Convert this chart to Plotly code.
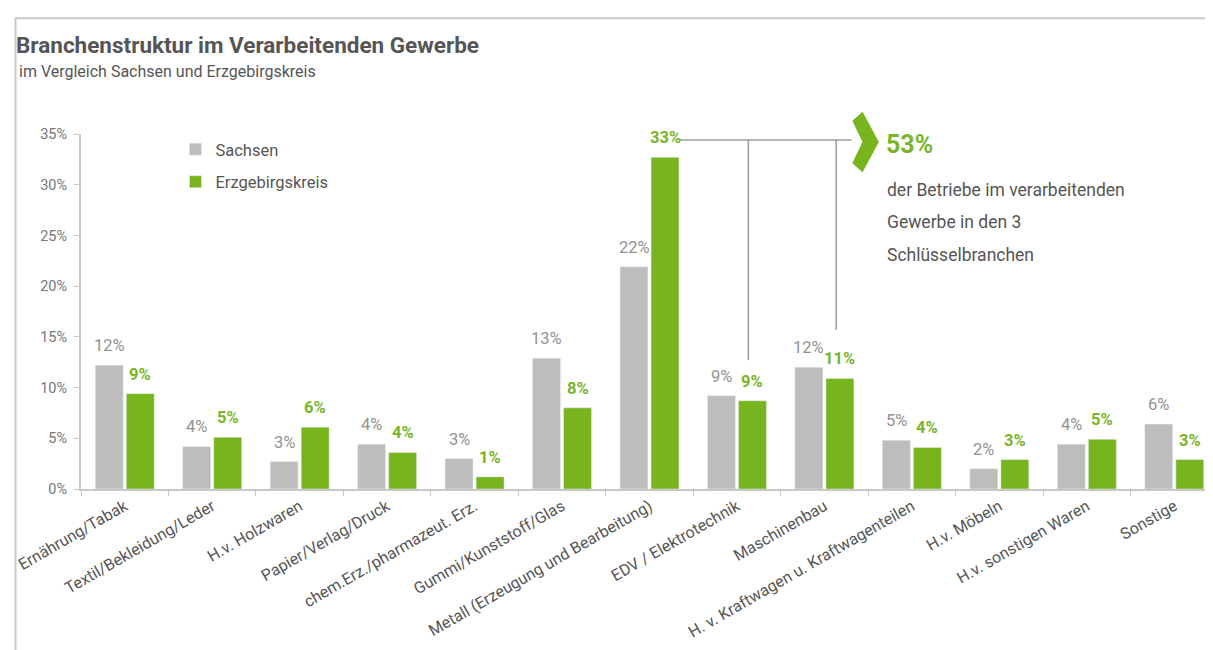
import plotly.graph_objects as go

# ---------------- data ----------------
categories = [
    "Ernährung/Tabak",
    "Textil/Bekleidung/Leder",
    "H.v. Holzwaren",
    "Papier/Verlag/Druck",
    "chem.Erz./pharmazeut. Erz.",
    "Gummi/Kunststoff/Glas",
    "Metall (Erzeugung und Bearbeitung)",
    "EDV / Elektrotechnik",
    "Maschinenbau",
    "H. v. Kraftwagen u. Kraftwagenteilen",
    "H.v. Möbeln",
    "H.v. sonstigen Waren",
    "Sonstige",
]
sachsen = [12.2, 4.2, 2.7, 4.4, 3.0, 12.9, 21.9, 9.2, 12.0, 4.8, 2.0, 4.4, 6.4]
erzgebirge = [9.4, 5.1, 6.1, 3.6, 1.2, 8.0, 32.7, 8.7, 10.9, 4.1, 2.9, 4.9, 2.9]
y_ticks = [0, 5, 10, 15, 20, 25, 30, 35]
y_tick_labels = [f"{v}%" for v in y_ticks]

title_text = "Branchenstruktur im Verarbeitenden Gewerbe"
subtitle_text = "im Vergleich Sachsen und Erzgebirgskreis"
callout_value = "53%"
callout_lines = ["der Betriebe im verarbeitenden", "Gewerbe in den 3", "Schlüsselbranchen"]

# ---------------- styling ----------------
W, H = 1213, 650
ML, MR, MT, MB = 72.5, 3, 126, 168.5
PW, PH = W - ML - MR, H - MT - MB
GRAY = "#bdbdbc"
GREEN = "#78b41e"
GRAY_TXT = "#929292"
GREEN_TXT = "#79b52a"
DARK = "#555555"
AXIS = "#c8c8c8"
FONT = "Roboto, sans-serif"


def px_x(px):
    return (px - ML) / PW


def px_y(py):
    return (H - MB - py) / PH


fig = go.Figure()
fig.add_trace(go.Bar(
    x=categories, y=sachsen, name="Sachsen", marker_color=GRAY,
    legendgroup="s", hoverinfo="skip",
))
fig.add_trace(go.Bar(
    x=categories, y=erzgebirge, name="Erzgebirgskreis", marker_color=GREEN,
    legendgroup="e", hoverinfo="skip",
))

annotations = []
# value labels
for cat, v in zip(categories, sachsen):
    annotations.append(dict(
        x=cat, y=v, xref="x", yref="y", text=f"{round(v):.0f}%", showarrow=False,
        xshift=-15.5, yshift=8, yanchor="bottom", xanchor="center",
        font=dict(family=FONT, size=16.5, color=GRAY_TXT),
    ))
for cat, v in zip(categories, erzgebirge):
    annotations.append(dict(
        x=cat, y=v, xref="x", yref="y", text=f"<b>{round(v):.0f}%</b>", showarrow=False,
        xshift=15.5, yshift=8, yanchor="bottom", xanchor="center",
        font=dict(family=FONT, size=16.5, color=GREEN_TXT),
    ))

# subtitle
annotations.append(dict(
    x=px_x(8), y=px_y(63), xref="paper", yref="paper", text=subtitle_text,
    showarrow=False, xanchor="left", yanchor="middle",
    font=dict(family=FONT, size=16, color=DARK),
))
# callout
annotations.append(dict(
    x=px_x(876), y=px_y(137), xref="paper", yref="paper", text=f"<b>{callout_value}</b>",
    showarrow=False, xanchor="left", yanchor="middle",
    font=dict(family=FONT, size=25, color=GREEN_TXT),
))
for i, line in enumerate(callout_lines):
    annotations.append(dict(
        x=px_x(877), y=px_y(182 + 32.5 * i), xref="paper", yref="paper", text=line,
        showarrow=False, xanchor="left", yanchor="middle",
        font=dict(family=FONT, size=17.5, color=DARK),
    ))

shapes = []
# outer frame
shapes.append(dict(
    type="rect", xref="paper", yref="paper",
    x0=px_x(7), x1=px_x(W + 20), y0=px_y(H + 20), y1=px_y(10),
    line=dict(color=AXIS, width=2), layer="below",
))
# bracket lines (category index units)
i_met = categories.index("Metall (Erzeugung und Bearbeitung)")
i_edv = categories.index("EDV / Elektrotechnik")
i_mb = categories.index("Maschinenbau")
line_y = 34.4
shapes.append(dict(type="line", xref="x", yref="y", x0=i_met + 0.35, x1=i_mb + 0.31,
                   y0=line_y, y1=line_y, line=dict(color="#9a9a9a", width=1.5)))
shapes.append(dict(type="line", xref="x", yref="y", x0=i_edv + 0.13, x1=i_edv + 0.13,
                   y0=line_y, y1=12.7, line=dict(color="#9a9a9a", width=1.5)))
shapes.append(dict(type="line", xref="x", yref="y", x0=i_mb + 0.135, x1=i_mb + 0.135,
                   y0=line_y, y1=15.7, line=dict(color="#9a9a9a", width=1.5)))
# chevron
pts = [(846, 113), (854, 106), (869, 134), (854, 162), (846, 155), (856, 134)]
path = "M " + " L ".join(f"{px_x(a):.5f},{px_y(b):.5f}" for a, b in pts) + " Z"
shapes.append(dict(type="path", xref="paper", yref="paper", path=path,
                   fillcolor=GREEN, line=dict(color=GREEN, width=3)))

fig.update_layout(
    width=W, height=H,
    margin=dict(l=ML, r=MR, t=MT, b=MB, autoexpand=False),
    paper_bgcolor="white", plot_bgcolor="white",
    barmode="group", bargap=0.29, bargroupgap=0.1,
    font=dict(family=FONT, color=DARK),
    title=dict(
        text=f"<b>{title_text}</b>", x=8 / W, xanchor="left", xref="container",
        y=1 - 37 / H, yanchor="middle", yref="container",
        font=dict(family=FONT, size=22.5, color=DARK),
    ),
    legend=dict(
        x=px_x(167), y=px_y(124), xanchor="left", yanchor="top",
        font=dict(family=FONT, size=16.5, color=DARK),
        bgcolor="rgba(0,0,0,0)", tracegroupgap=8, itemclick=False,
    ),
    xaxis=dict(
        type="category", showline=True, linecolor=AXIS, linewidth=2,
        ticks="outside", tickson="boundaries", ticklen=5, tickcolor=AXIS,
        tickangle=-30, tickfont=dict(family=FONT, size=16, color=DARK),
        showgrid=False, zeroline=False,
    ),
    yaxis=dict(
        range=[0, 35], tickvals=y_ticks, ticktext=y_tick_labels,
        showline=True, linecolor=AXIS, linewidth=2,
        ticks="outside", ticklen=5, tickcolor=AXIS,
        tickfont=dict(family=FONT, size=14.5, color="#777777"),
        showgrid=False, zeroline=False, ticklabelstandoff=4,
    ),
    annotations=annotations, shapes=shapes,
)

fig.write_html("out.html")
